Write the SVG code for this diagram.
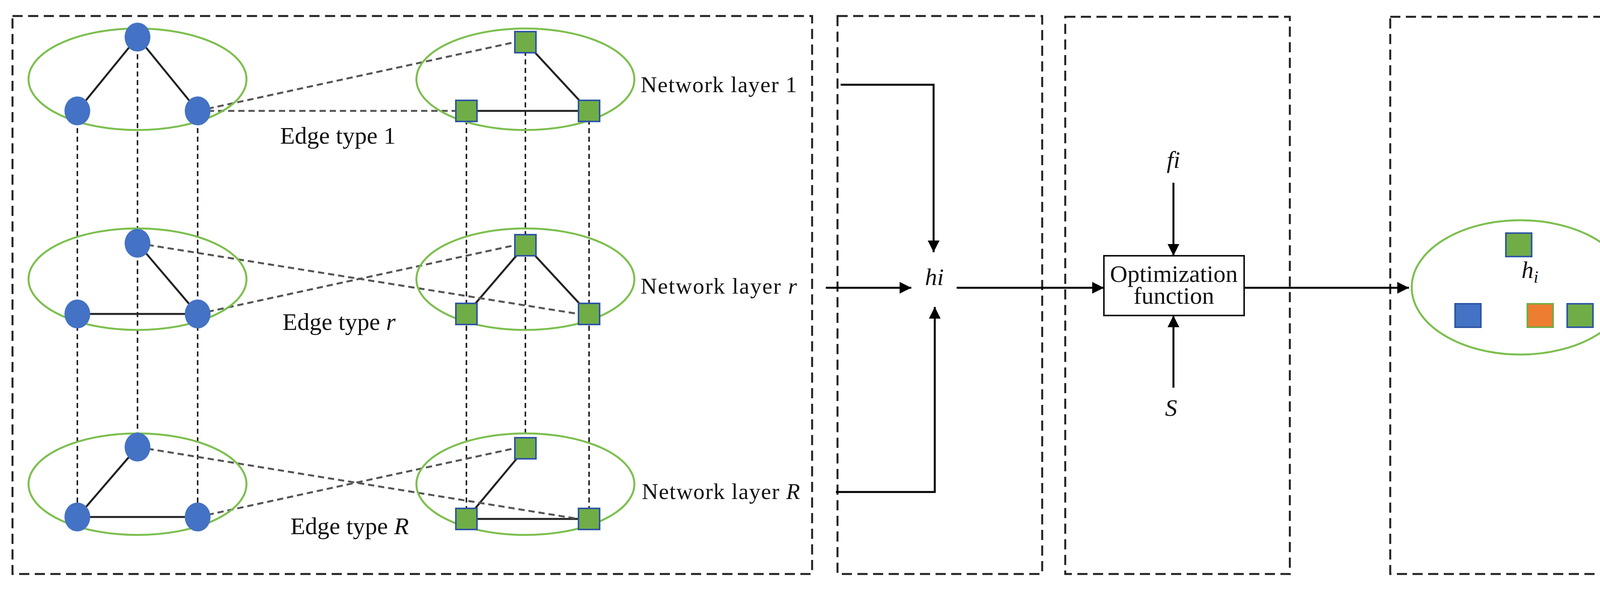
<svg xmlns="http://www.w3.org/2000/svg" width="4244" height="1511" viewBox="0 0 4244 1511">
<defs>
<marker id="ah" viewBox="0 0 10 10" refX="10" refY="5" markerWidth="30" markerHeight="30" markerUnits="userSpaceOnUse" orient="auto"><path d="M0,0 L10,5 L0,10 z" fill="#000"/></marker>
<style>
.box{fill:none;stroke:#222;stroke-width:5;stroke-dasharray:26 14}
.ell{fill:none;stroke:#7cbf4e;stroke-width:5}
.c{fill:#4472c4}
.sq{fill:#70ad47;stroke:#2f55a4;stroke-width:4}
.s{stroke:#222;stroke-width:5;fill:none}
.v{stroke:#222;stroke-width:4;stroke-dasharray:13 9;fill:none}
.d{stroke:#555;stroke-width:5;stroke-dasharray:16 10;fill:none}
.a{stroke:#000;stroke-width:5;fill:none;marker-end:url(#ah)}
.t{font-family:"Liberation Serif",serif;font-size:62px;fill:#111}
.n{font-size:58px}
.i{font-style:italic}
</style>
</defs>
<g id="frames">
<rect class="box" x="32" y="41" width="2047" height="1429"/>
<rect class="box" x="2144" y="41" width="524" height="1429"/>
<rect class="box" x="2727" y="43" width="575" height="1427"/>
<rect class="box" x="3559" y="43" width="648" height="1427"/>
</g>
<g id="connectors">
<path class="v" d="M198,284V1324M352,95V1145M506,284V1324M1194,284V1329M1345,108V1148M1508,284V1329"/>
<path class="s" d="M352,95L198,284M352,95L506,284M1345,108L1508,284M1194,284H1508"/>
<path class="s" d="M352,623L506,804M198,804H506M1345,628L1194,804M1345,628L1508,804"/>
<path class="s" d="M352,1145L198,1324M198,1324H506M1345,1148L1194,1329M1194,1329H1508"/>
<path class="d" d="M506,284L1318,108M506,284H1167"/>
<path class="d" d="M352,623L1481,804M506,804L1318,628"/>
<path class="d" d="M352,1145L1481,1329M506,1324L1318,1148"/>
<path class="a" d="M2152,217H2390V646"/>
<path class="a" d="M2114,737H2333"/>
<path class="a" d="M2140,1260H2393V786"/>
<path class="a" d="M2449,737H2826"/>
<path class="a" d="M3004,468V655"/>
<path class="a" d="M3004,993V808"/>
<path class="a" d="M3185,737H3607"/>
</g>
<g id="layer1">
<ellipse class="ell" cx="352" cy="203" rx="279" ry="130"/>
<ellipse class="ell" cx="1345" cy="203" rx="279" ry="130"/>
<ellipse class="c" cx="352" cy="95" rx="33" ry="37"/><ellipse class="c" cx="198" cy="284" rx="33" ry="37"/><ellipse class="c" cx="506" cy="284" rx="33" ry="37"/>
<rect class="sq" x="1318" y="81" width="54" height="54"/><rect class="sq" x="1167" y="257" width="54" height="54"/><rect class="sq" x="1481" y="257" width="54" height="54"/>
<text class="t" x="865" y="368" text-anchor="middle">Edge type 1</text>
<text class="t n" x="1640" y="236" textLength="400">Network layer 1</text>
</g>
<g id="layerr">
<ellipse class="ell" cx="352" cy="715" rx="279" ry="130"/>
<ellipse class="ell" cx="1345" cy="715" rx="279" ry="130"/>
<ellipse class="c" cx="352" cy="623" rx="33" ry="37"/><ellipse class="c" cx="198" cy="804" rx="33" ry="37"/><ellipse class="c" cx="506" cy="804" rx="33" ry="37"/>
<rect class="sq" x="1318" y="601" width="54" height="54"/><rect class="sq" x="1167" y="777" width="54" height="54"/><rect class="sq" x="1481" y="777" width="54" height="54"/>
<text class="t" x="868" y="845" text-anchor="middle">Edge type <tspan class="i">r</tspan></text>
<text class="t n" x="1640" y="752" textLength="400">Network layer <tspan class="i">r</tspan></text>
</g>
<g id="layerR">
<ellipse class="ell" cx="352" cy="1240" rx="279" ry="130"/>
<ellipse class="ell" cx="1345" cy="1240" rx="279" ry="130"/>
<ellipse class="c" cx="352" cy="1145" rx="33" ry="37"/><ellipse class="c" cx="198" cy="1324" rx="33" ry="37"/><ellipse class="c" cx="506" cy="1324" rx="33" ry="37"/>
<rect class="sq" x="1318" y="1121" width="54" height="54"/><rect class="sq" x="1167" y="1302" width="54" height="54"/><rect class="sq" x="1481" y="1302" width="54" height="54"/>
<text class="t" x="895" y="1368" text-anchor="middle">Edge type <tspan class="i">R</tspan></text>
<text class="t n" x="1643" y="1278" textLength="405">Network layer <tspan class="i">R</tspan></text>
</g>
<g id="hi"><text class="t i" x="2392" y="730" text-anchor="middle" font-size="66">hi</text></g>
<g id="opt">
<rect x="2826" y="655" width="359" height="153" fill="#fff" stroke="#111" stroke-width="4"/>
<text class="t" x="3005" y="722" text-anchor="middle" font-size="42">Optimization</text>
<text class="t" x="3005" y="778" text-anchor="middle" font-size="42">function</text>
</g>
<g id="fi"><text class="t i" x="3004" y="430" text-anchor="middle" font-size="66">fi</text></g>
<g id="S"><text class="t i" x="2998" y="1065" text-anchor="middle" font-size="72">S</text></g>
<g id="result">
<ellipse class="ell" cx="3892" cy="736" rx="278" ry="172"/>
<rect class="sq" x="3855" y="597" width="66" height="60"/>
<rect x="3725" y="778" width="66" height="60" fill="#4472c4" stroke="#2f55a4" stroke-width="4"/>
<rect x="3910" y="778" width="66" height="60" fill="#ed7d31" stroke="#70ad47" stroke-width="4"/>
<rect class="sq" x="4012" y="778" width="66" height="60"/>
<text class="t i" x="3895" y="712" font-size="64">h<tspan font-size="44" dy="12">i</tspan></text>
</g>
</svg>
